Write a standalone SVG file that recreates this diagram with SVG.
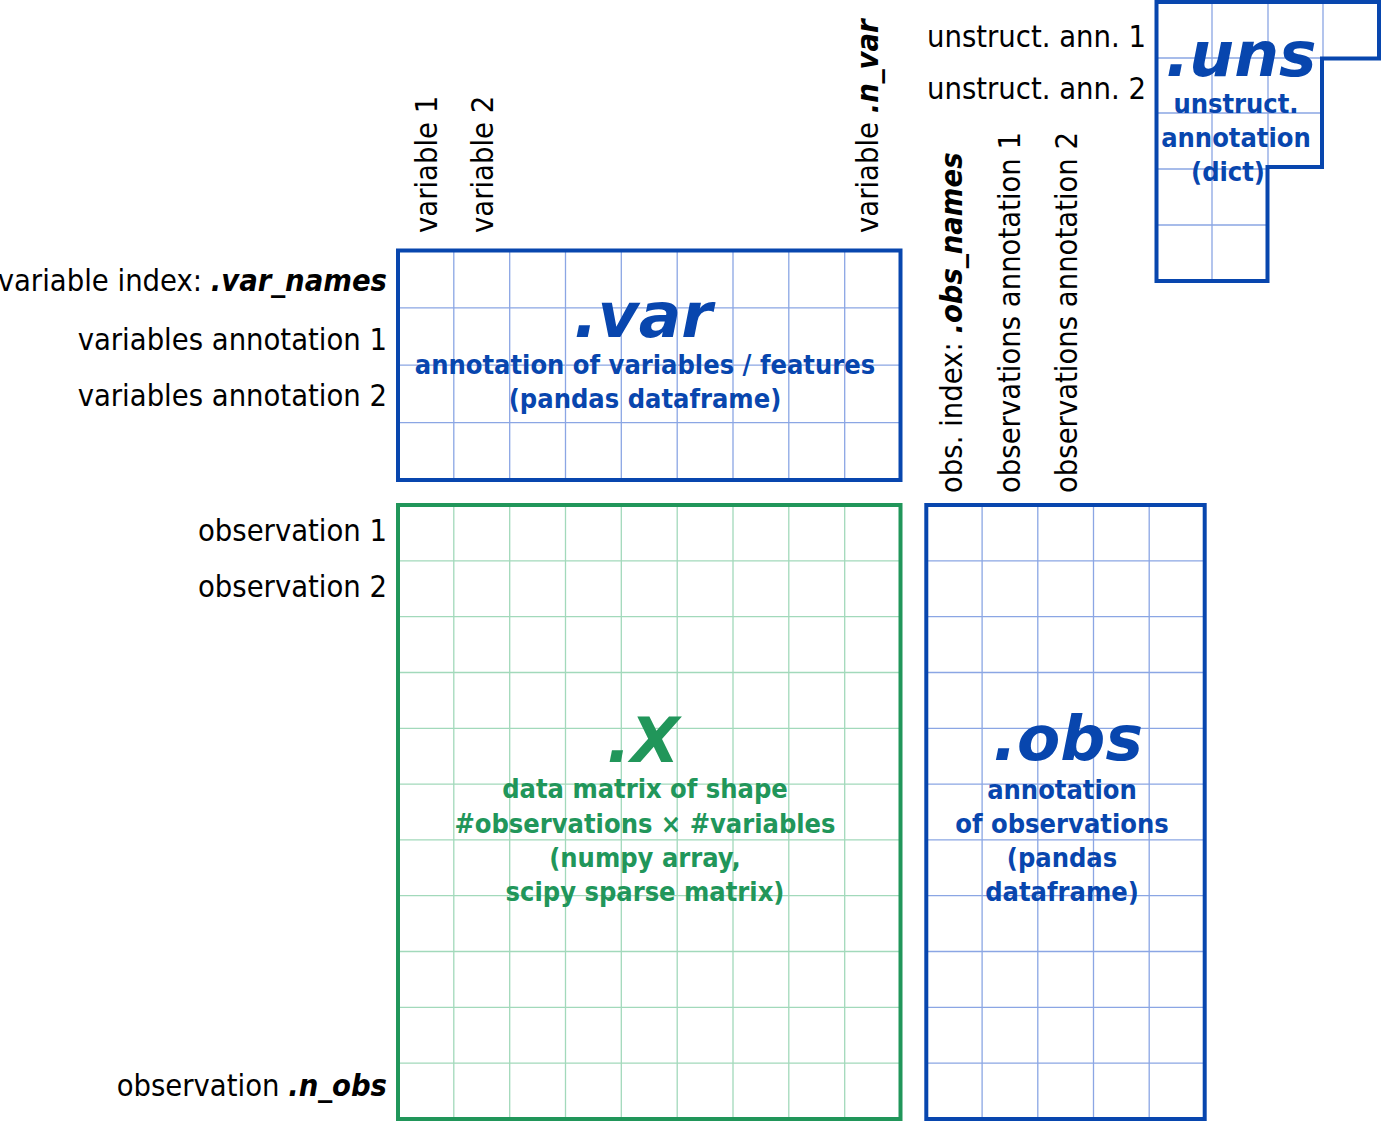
<svg xmlns="http://www.w3.org/2000/svg" width="1381" height="1122" viewBox="0 0 1381 1122">
<style>
.bg{fill:#ffffff}
.out-b{fill:none;stroke:#0846ae;stroke-width:4}
.out-g{fill:none;stroke:#21965a;stroke-width:4}
.grid-b{stroke:#8ba6e4;stroke-width:1.3;fill:none}
.grid-g{stroke:#a2d9bb;stroke-width:1.3;fill:none}
.lbl{font-family:"DejaVu Sans Condensed","DejaVu Sans",sans-serif;font-stretch:condensed;font-size:30.6px;fill:#000}
.em{font-weight:bold;font-style:italic}
.sub{font-family:"DejaVu Sans Condensed","DejaVu Sans",sans-serif;font-stretch:condensed;font-weight:bold;font-size:27px;text-anchor:middle}
.big{font-family:"DejaVu Sans",sans-serif;font-weight:bold;font-style:italic;font-size:63px;text-anchor:middle}
.blue{fill:#0846ae}
.green{fill:#21965a}
</style>
<rect class="bg" x="0" y="0" width="1381" height="1122"/>

<g id="var">
  <g class="grid-b">
    <path d="M453.8 250.5V480M509.7 250.5V480M565.5 250.5V480M621.3 250.5V480M677.2 250.5V480M733 250.5V480M788.8 250.5V480M844.7 250.5V480"/>
    <path d="M398 307.9H900.5M398 365.2H900.5M398 422.6H900.5"/>
  </g>
  <rect class="out-b" x="398" y="250.5" width="502.5" height="229.5"/>
  <text class="big blue" x="643" y="337">.var</text>
  <text class="sub blue" x="645" y="374">annotation of variables / features</text>
  <text class="sub blue" x="645" y="408">(pandas dataframe)</text>
</g>

<g id="X">
  <g class="grid-g">
    <path d="M453.8 505V1119M509.7 505V1119M565.5 505V1119M621.3 505V1119M677.2 505V1119M733 505V1119M788.8 505V1119M844.7 505V1119"/>
    <path d="M398 560.8H900.5M398 616.6H900.5M398 672.5H900.5M398 728.3H900.5M398 784.1H900.5M398 839.9H900.5M398 895.7H900.5M398 951.5H900.5M398 1007.4H900.5M398 1063.2H900.5"/>
  </g>
  <rect class="out-g" x="398" y="505" width="502.5" height="614"/>
  <text class="big green" x="643" y="762">.X</text>
  <text class="sub green" x="645" y="798">data matrix of shape</text>
  <text class="sub green" x="645" y="832.5">#observations × #variables</text>
  <text class="sub green" x="645" y="867">(numpy array,</text>
  <text class="sub green" x="645" y="901">scipy sparse matrix)</text>
</g>

<g id="obs">
  <g class="grid-b">
    <path d="M982.1 505V1119M1037.8 505V1119M1093.5 505V1119M1149.2 505V1119"/>
    <path d="M926.3 560.8H1204.7M926.3 616.6H1204.7M926.3 672.5H1204.7M926.3 728.3H1204.7M926.3 784.1H1204.7M926.3 839.9H1204.7M926.3 895.7H1204.7M926.3 951.5H1204.7M926.3 1007.4H1204.7M926.3 1063.2H1204.7"/>
  </g>
  <rect class="out-b" x="926.3" y="505" width="278.4" height="614"/>
  <text class="big blue" x="1068" y="760">.obs</text>
  <text class="sub blue" x="1062" y="799">annotation</text>
  <text class="sub blue" x="1062" y="833">of observations</text>
  <text class="sub blue" x="1062" y="867">(pandas</text>
  <text class="sub blue" x="1062" y="901">dataframe)</text>
</g>

<g id="uns">
  <g class="grid-b">
    <path d="M1212 2V281M1268 2V169M1323 2V58"/>
    <path d="M1156.5 58H1322M1156.5 113H1322M1156.5 169H1268M1156.5 225H1268"/>
  </g>
  <path class="out-b" d="M1156.5 2H1379V58.5H1322V167H1267.5V281H1156.5Z"/>
  <text class="big blue" x="1241" y="76">.uns</text>
  <text class="sub blue" x="1236" y="113">unstruct.</text>
  <text class="sub blue" x="1236" y="147">annotation</text>
  <text class="sub blue" x="1228" y="181">(dict)</text>
</g>

<g id="labels">
  <text class="lbl" x="387" y="291" text-anchor="end">variable index: <tspan class="em">.var_names</tspan></text>
  <text class="lbl" x="387" y="350" text-anchor="end">variables annotation 1</text>
  <text class="lbl" x="387" y="406" text-anchor="end">variables annotation 2</text>
  <text class="lbl" x="387" y="541" text-anchor="end">observation 1</text>
  <text class="lbl" x="387" y="597" text-anchor="end">observation 2</text>
  <text class="lbl" x="387" y="1096" text-anchor="end">observation <tspan class="em">.n_obs</tspan></text>
  <text class="lbl" transform="translate(437,233) rotate(-90)">variable 1</text>
  <text class="lbl" transform="translate(493,233) rotate(-90)">variable 2</text>
  <text class="lbl" transform="translate(878,233) rotate(-90)">variable <tspan class="em">.n_var</tspan></text>
  <text class="lbl" transform="translate(962,493) rotate(-90)">obs. index: <tspan class="em">.obs_names</tspan></text>
  <text class="lbl" transform="translate(1020,493) rotate(-90)">observations annotation 1</text>
  <text class="lbl" transform="translate(1077,493) rotate(-90)">observations annotation 2</text>
  <text class="lbl" x="927" y="47">unstruct. ann. 1</text>
  <text class="lbl" x="927" y="99">unstruct. ann. 2</text>
</g>
</svg>
